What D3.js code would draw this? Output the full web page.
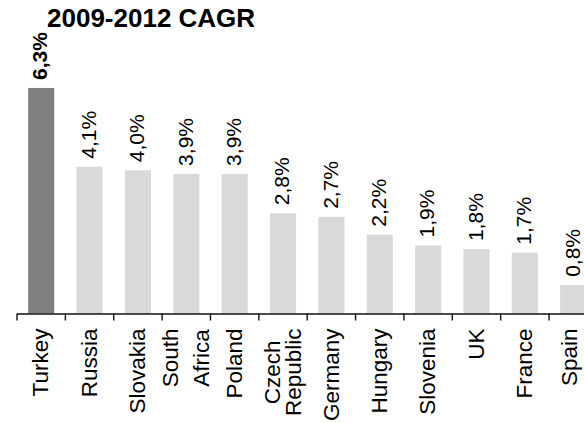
<!DOCTYPE html>
<html>
<head>
<meta charset="utf-8">
<script src="https://cdn.jsdelivr.net/npm/d3@7"></script>
<style>
  html, body { margin: 0; padding: 0; background: #fff; }
  svg { display: block; font-family: "Liberation Sans", Arial, sans-serif; }
</style>
</head>
<body>
<svg id="chart" width="584" height="423"></svg>
<script>
// CAGR 2009-2012 by country
const categories = ["Turkey", "Russia", "Slovakia", "South Africa", "Poland", "Czech Republic",
                    "Germany", "Hungary", "Slovenia", "UK", "France", "Spain"];
const categoryLines = [["Turkey"], ["Russia"], ["Slovakia"], ["South", "Africa"], ["Poland"],
                       ["Czech", "Republic"], ["Germany"], ["Hungary"], ["Slovenia"], ["UK"],
                       ["France"], ["Spain"]];
const cagr = [6.3, 4.1, 4.0, 3.9, 3.9, 2.8, 2.7, 2.2, 1.9, 1.8, 1.7, 0.8];
const valueLabels = ["6,3%", "4,1%", "4,0%", "3,9%", "3,9%", "2,8%", "2,7%", "2,2%", "1,9%", "1,8%", "1,7%", "0,8%"];
const highlight = "Turkey";
const title = "2009-2012 CAGR";

const W = 584;
const svg = d3.select("#chart");
const baseY = 313.5;

const x = d3.scaleBand()
  .domain(categories)
  .range([17, 597.4])
  .paddingInner(0.46)
  .paddingOuter(0.23);

const y = d3.scaleLinear()
  .domain([0, 7])
  .range([baseY, baseY - 7 * 35.8]);

const data = categories.map((c, i) => ({ c, v: cagr[i], label: valueLabels[i], lines: categoryLines[i] }));

// title
svg.append("text")
  .attr("x", 47)
  .attr("y", 27)
  .attr("font-size", 26)
  .attr("font-weight", "bold")
  .attr("fill", "#000")
  .text(title);

// bars
svg.append("g").selectAll("rect")
  .data(data)
  .join("rect")
  .attr("x", d => x(d.c))
  .attr("y", d => y(d.v))
  .attr("width", x.bandwidth())
  .attr("height", d => y(0) - y(d.v))
  .attr("fill", d => d.c === highlight ? "#808080" : "#d9d9d9");

// value labels, rotated above each bar
svg.append("g").selectAll("text")
  .data(data)
  .join("text")
  .attr("transform", d => `translate(${x(d.c) + x.bandwidth() / 2},${y(d.v) - 8}) rotate(-90)`)
  .attr("dy", "0.3em")
  .attr("text-anchor", "start")
  .attr("font-size", 21)
  .attr("font-weight", d => d.c === highlight ? "bold" : "normal")
  .attr("fill", "#000")
  .text(d => d.label);

// axis line and tick marks at category boundaries
const step = x.step();
const axis = svg.append("g");
axis.append("line")
  .attr("x1", 17).attr("x2", W)
  .attr("y1", baseY + 0.5).attr("y2", baseY + 0.5)
  .attr("stroke", "#111").attr("stroke-width", 1.4);
axis.selectAll("line.tick")
  .data(categories)
  .join("line")
  .attr("class", "tick")
  .attr("x1", d => x(d) - step * x.paddingInner() / 2)
  .attr("x2", d => x(d) - step * x.paddingInner() / 2)
  .attr("y1", baseY).attr("y2", baseY + 7)
  .attr("stroke", "#111").attr("stroke-width", 1.4);

// category labels, rotated; multi-line labels are centred on the band
const lineGap = { "South Africa": 31 };
const catG = svg.append("g").selectAll("g")
  .data(data)
  .join("g");

catG.each(function(d) {
  const g = d3.select(this);
  const cx = x(d.c) + x.bandwidth() / 2;
  const n = d.lines.length;
  const gap = lineGap[d.c] || 21;
  const t = g.append("text")
    .attr("font-size", 22.5)
    .attr("fill", "#000");
  const spans = d.lines.map((ln, i) => t.append("tspan")
    .attr("x", 0)
    .attr("y", (i - (n - 1) / 2) * gap)
    .attr("dy", "0.32em")
    .text(ln));
  if (n === 1) {
    t.attr("text-anchor", "end");
  } else {
    const maxLen = d3.max(spans, s => s.node().getComputedTextLength());
    t.attr("text-anchor", "middle");
    spans.forEach(s => s.attr("x", -maxLen / 2));
  }
  // keep the label inside the right edge
  const bb = t.node().getBBox();
  const right = cx + bb.y + bb.height;
  const shift = right > W - 2 ? right - (W - 2) : 0;
  g.attr("transform", `translate(${cx - shift},${baseY + 15}) rotate(-90)`);
});
</script>
</body>
</html>
